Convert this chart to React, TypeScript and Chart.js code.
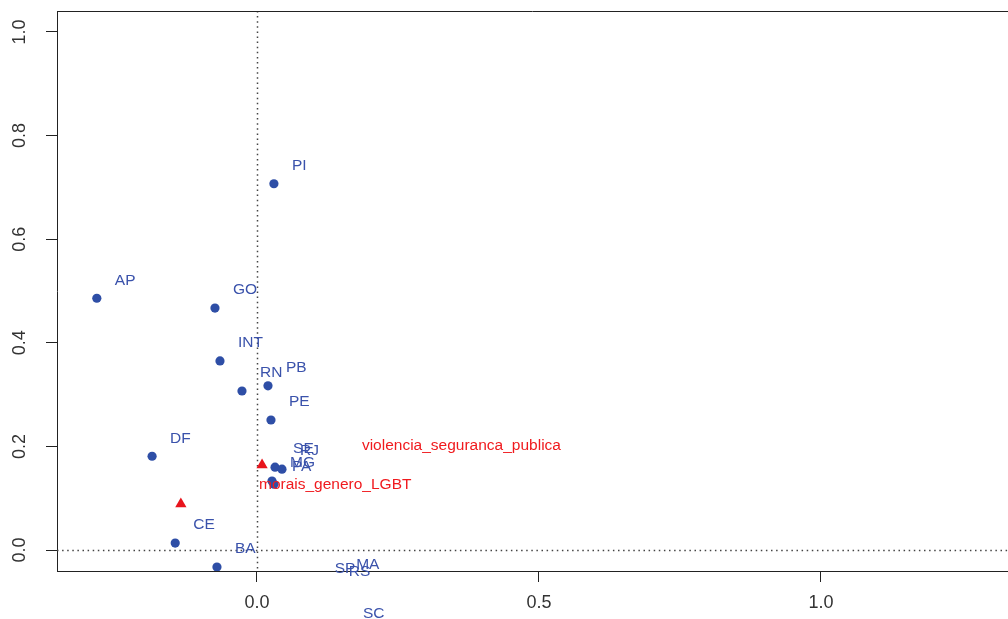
import React, { useEffect, useRef } from "react";
import { Chart, registerables } from "chart.js";

Chart.register(...registerables);

// Row points (states)
const rowLabels = ["PI", "AP", "GO", "INT", "RN", "PB", "PE", "DF", "CE", "BA", "SE", "RJ", "MG", "PA", "SP", "RS", "MA", "SC"];
const rowX = [0.030, -0.284, -0.0745, -0.0656, -0.0266, 0.0195, 0.0248, -0.186, -0.145, -0.071, 0.032, 0.0443, 0.0266, 0.030, 0.106, 0.131, 0.144, 0.156];
const rowY = [0.707, 0.486, 0.467, 0.365, 0.307, 0.317, 0.251, 0.181, 0.0135, -0.033, 0.160, 0.156, 0.133, 0.127, -0.071, -0.077, -0.064, -0.158];

// Column points (themes)
const colLabels = ["violencia_seguranca_publica", "morais_genero_LGBT"];
const colX = [0.009, -0.135];
const colY = [0.164, 0.0888];
// text anchor coordinates (left edge) for the column labels
const colLabelX = [0.186, 0.0035];
const colLabelY = [0.2008, 0.1255];

// Axes
const xTicks = [0, 0.5, 1.0];
const xTickLabels = ["0.0", "0.5", "1.0"];
const yTicks = [0, 0.2, 0.4, 0.6, 0.8, 1.0];
const yTickLabels = ["0.0", "0.2", "0.4", "0.6", "0.8", "1.0"];
const xMin = -0.3546;
const xMax = 1.3316;
const yMin = -0.0405;
const yMax = 1.0405;

const BLUE_PT = "#2e4ea6";
const BLUE_TXT = "#3a52ab";
const RED_PT = "#e8141c";
const RED_TXT = "#f01a1e";
const AXIS = "#222222";
const FONT = "'Liberation Sans', Arial, sans-serif";

export default function App() {
  const ref = useRef<HTMLCanvasElement | null>(null);

  useEffect(() => {
    if (!ref.current) return;

    const overlay = {
      id: "rstyle",
      beforeDatasetsDraw(chart: any) {
        const { ctx, chartArea } = chart;
        const xs = chart.scales.x;
        const ys = chart.scales.y;
        ctx.save();
        // dotted zero lines
        ctx.strokeStyle = "#444444";
        ctx.lineWidth = 1.5;
        ctx.setLineDash([1.5, 3.6]);
        const x0 = Math.round(xs.getPixelForValue(0)) + 0.5;
        const y0 = Math.round(ys.getPixelForValue(0)) + 0.5;
        ctx.beginPath();
        ctx.moveTo(x0, chartArea.top);
        ctx.lineTo(x0, chartArea.bottom);
        ctx.moveTo(chartArea.left, y0);
        ctx.lineTo(chartArea.right, y0);
        ctx.stroke();
        ctx.setLineDash([]);
        // top border of box
        ctx.strokeStyle = AXIS;
        ctx.lineWidth = 1;
        ctx.beginPath();
        ctx.moveTo(chartArea.left, chartArea.top + 0.5);
        ctx.lineTo(chartArea.right, chartArea.top + 0.5);
        ctx.stroke();
        ctx.restore();
      },
      afterDatasetsDraw(chart: any) {
        const { ctx, chartArea } = chart;
        const xs = chart.scales.x;
        const ys = chart.scales.y;
        ctx.save();
        // tick labels
        ctx.fillStyle = "#333333";
        ctx.font = `18px ${FONT}`;
        ctx.textAlign = "center";
        ctx.textBaseline = "middle";
        xTicks.forEach((v, i) => {
          ctx.fillText(xTickLabels[i], xs.getPixelForValue(v), chartArea.bottom + 32);
        });
        yTicks.forEach((v, i) => {
          ctx.save();
          ctx.translate(chartArea.left - 37, ys.getPixelForValue(v));
          ctx.rotate(-Math.PI / 2);
          ctx.fillText(yTickLabels[i], 0, 0);
          ctx.restore();
        });
        // point labels (not clipped)
        ctx.font = `15.5px ${FONT}`;
        ctx.textAlign = "left";
        ctx.textBaseline = "middle";
        ctx.fillStyle = BLUE_TXT;
        rowLabels.forEach((lab, i) => {
          const px = xs.getPixelForValue(rowX[i]);
          const py = ys.getPixelForValue(rowY[i]);
          ctx.fillText(lab, px + 18, py - 18);
        });
        ctx.fillStyle = RED_TXT;
        colLabels.forEach((lab, i) => {
          ctx.fillText(lab, xs.getPixelForValue(colLabelX[i]), ys.getPixelForValue(colLabelY[i]));
        });
        ctx.restore();
      },
    };

    const chart = new Chart(ref.current, {
      type: "scatter",
      data: {
        datasets: [
          {
            label: "rows",
            data: rowX.map((x, i) => ({ x, y: rowY[i] })),
            backgroundColor: BLUE_PT,
            borderWidth: 0,
            pointRadius: 4.6,
            pointHoverRadius: 4.6,
            clip: 0,
          },
          {
            label: "cols",
            data: colX.map((x, i) => ({ x, y: colY[i] })),
            backgroundColor: RED_PT,
            borderWidth: 0,
            pointStyle: "triangle",
            pointRadius: 6.5,
            pointHoverRadius: 6.5,
            clip: 0,
          },
        ],
      },
      options: {
        animation: false,
        responsive: false,
        maintainAspectRatio: false,
        devicePixelRatio: 1,
        layout: { autoPadding: false, padding: { top: 11, left: 0, right: 0, bottom: 0 } },
        plugins: { legend: { display: false }, tooltip: { enabled: false }, title: { display: false } },
        events: [],
        scales: {
          x: {
            type: "linear",
            min: xMin,
            max: xMax,
            afterBuildTicks: (s: any) => {
              s.ticks = xTicks.map((v) => ({ value: v }));
            },
            afterFit: (s: any) => {
              s.height = 48;
            },
            ticks: { display: false },
            grid: { display: true, drawOnChartArea: false, drawTicks: true, tickLength: 11, color: AXIS, lineWidth: 1 },
            border: { display: true, color: AXIS, width: 1 },
          },
          y: {
            type: "linear",
            min: yMin,
            max: yMax,
            afterBuildTicks: (s: any) => {
              s.ticks = yTicks.map((v) => ({ value: v }));
            },
            afterFit: (s: any) => {
              s.width = 57;
            },
            ticks: { display: false },
            grid: { display: true, drawOnChartArea: false, drawTicks: true, tickLength: 11, color: AXIS, lineWidth: 1 },
            border: { display: true, color: AXIS, width: 1 },
          },
        },
      },
      plugins: [overlay],
    });

    return () => chart.destroy();
  }, []);

  return (
    <div style={{ position: "fixed", left: 0, top: 0, width: 1008, height: 619, overflow: "hidden", background: "#ffffff" }}>
      <canvas ref={ref} width={1008} height={619} style={{ display: "block", width: 1008, height: 619 }} />
    </div>
  );
}
